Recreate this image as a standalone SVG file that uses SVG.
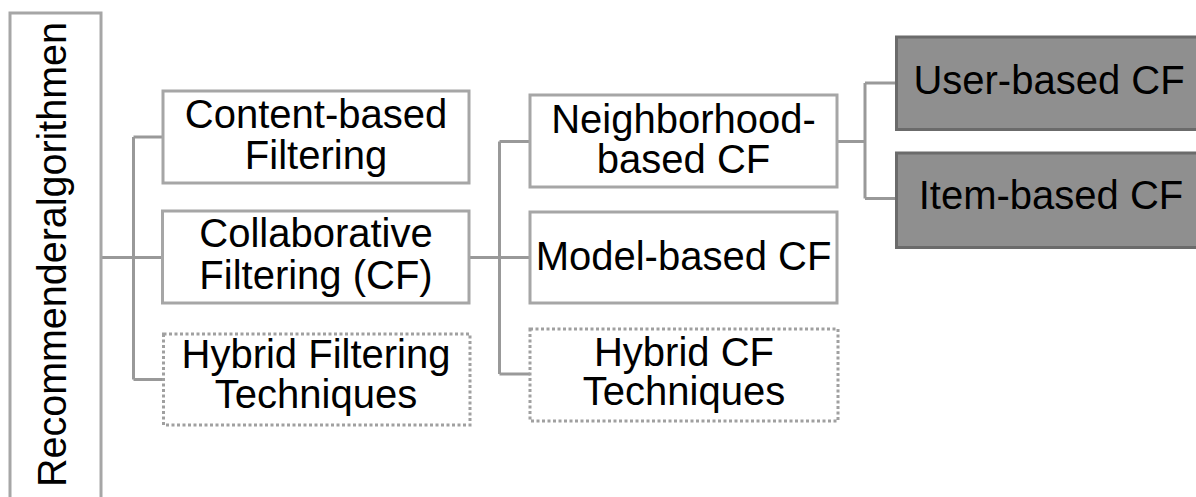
<svg xmlns="http://www.w3.org/2000/svg" width="1196" height="497" viewBox="0 0 1196 497">
<style>
.box{fill:#ffffff;stroke:#a6a6a6;stroke-width:3}
.dot{fill:#ffffff;stroke:#a0a0a0;stroke-width:3;stroke-dasharray:3 2.5}
.dark{fill:#8f8f8f;stroke:#6b6b6b;stroke-width:3}
.t{font-family:"Liberation Sans",Arial,sans-serif;font-size:40px;fill:#000;text-anchor:middle}
.c{fill:none;stroke:#999999;stroke-width:3}
</style>
<rect width="1196" height="497" fill="#ffffff"/>
<g id="connectors">
<path class="c" d="M102 257.5H162 M133.5 137V379.5 M133.5 137H163 M133.5 379.5H163"/>
<path class="c" d="M469 257.5H530 M499.5 141.5V374 M499.5 141.5H530 M499.5 374H530"/>
<path class="c" d="M837 141.5H865 M865 83V198.5 M865 83H897 M865 198.5H897"/>
</g>
<g id="root">
<rect class="box" x="10" y="13" width="91" height="500"/>
<text class="t" transform="translate(66 254.5) rotate(-90)" textLength="465" lengthAdjust="spacingAndGlyphs">Recommenderalgorithmen</text>
</g>
<g id="content">
<rect class="box" x="163" y="91" width="306" height="92"/>
<text class="t" x="316" y="128">Content-based</text>
<text class="t" x="316" y="169">Filtering</text>
</g>
<g id="collab">
<rect class="box" x="162.5" y="211" width="306.5" height="92"/>
<text class="t" x="316" y="247">Collaborative</text>
<text class="t" x="316" y="289">Filtering (CF)</text>
</g>
<g id="hybrid">
<rect class="dot" x="163.5" y="334" width="306.5" height="91"/>
<text class="t" x="316" y="368">Hybrid Filtering</text>
<text class="t" x="316" y="408">Techniques</text>
</g>
<g id="neighborhood">
<rect class="box" x="530" y="95" width="307" height="92"/>
<text class="t" x="683.5" y="133">Neighborhood-</text>
<text class="t" x="683.5" y="173">based CF</text>
</g>
<g id="model">
<rect class="box" x="530" y="212" width="307" height="91"/>
<text class="t" x="683.5" y="270">Model-based CF</text>
</g>
<g id="hybridcf">
<rect class="dot" x="530" y="329" width="308" height="92"/>
<text class="t" x="684" y="366">Hybrid CF</text>
<text class="t" x="684" y="405">Techniques</text>
</g>
<g id="user">
<rect class="dark" x="896.5" y="37" width="310" height="92.5"/>
<text class="t" x="1049" y="94">User-based CF</text>
</g>
<g id="item">
<rect class="dark" x="896.5" y="153" width="310" height="94.5"/>
<text class="t" x="1051" y="209">Item-based CF</text>
</g>
</svg>
